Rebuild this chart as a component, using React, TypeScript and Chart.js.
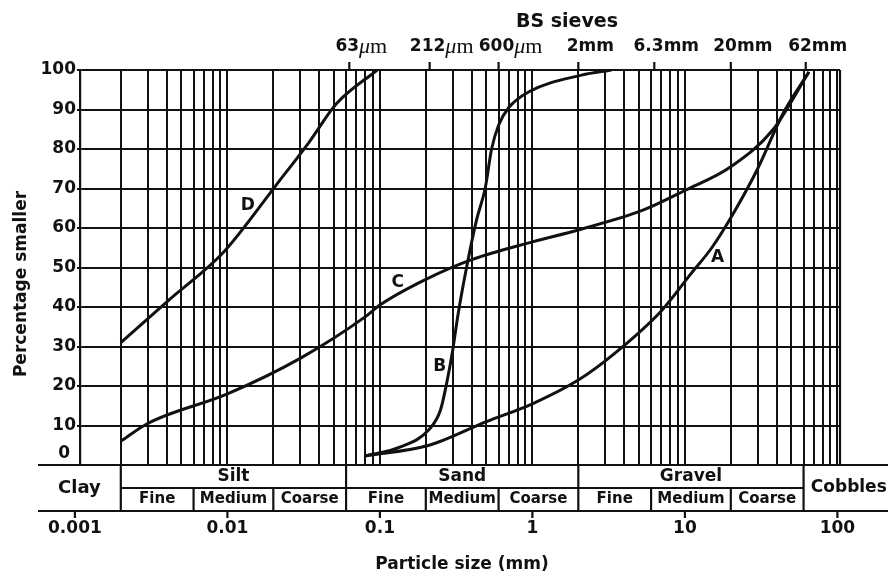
import React, { useEffect, useRef } from "react";
import { Chart, registerables } from "chart.js";

Chart.register(...registerables);

// ---------- data ----------
const sizesA = [0.08, 0.21, 0.5, 1, 2, 3.4, 7, 11, 15, 21, 30, 44, 65];
const pctA = [2.3, 5, 11, 15.5, 21.5, 28, 39, 48.5, 55, 64, 75, 89, 99.5];

const sizesB = [0.08, 0.135, 0.21, 0.25, 0.275, 0.3, 0.325, 0.37, 0.43, 0.49, 0.54, 0.6, 0.7, 0.95, 2.1, 3.3];
const pctB = [2.3, 4.5, 9, 14, 21, 29, 38, 50, 62, 70, 80, 86, 90.5, 94.5, 98.7, 100];

const sizesC = [0.002, 0.003, 0.01, 0.03, 0.08, 0.1, 0.2, 0.4, 1, 2, 5.3, 10, 20, 38, 65];
const pctC = [6, 10.5, 18, 27, 37.5, 40.5, 47, 52, 56.5, 59.5, 64.5, 69.5, 75.5, 85, 99.5];

const sizesD = [0.002, 0.0042, 0.0095, 0.021, 0.034, 0.052, 0.096];
const pctD = [31, 42, 54, 71, 81.5, 91.5, 100];

const curveNames = ["A", "B", "C", "D"];
const curveLabelSize = [16.4, 0.247, 0.131, 0.0136];
const curveLabelPct = [52.4, 24.8, 46.3, 65.8];

const yTickValues = [0, 10, 20, 30, 40, 50, 60, 70, 80, 90, 100];

const xTickValues = [0.001, 0.01, 0.1, 1, 10, 100];
const xTickLabels = ["0.001", "0.01", "0.1", "1", "10", "100"];

const gridDecades = [0.001, 0.01, 0.1, 1, 10];
const gridMultipliers = [2, 3, 4, 5, 6, 7, 8, 9, 10];

const sieveSizes = [0.063, 0.212, 0.6, 2, 6.3, 20, 62];
const sieveNums = ["63", "212", "600", "2", "6.3", "20", "62"];
const sieveUnits = ["μm", "μm", "μm", "mm", "mm", "mm", "mm"];

const mainClasses = ["Silt", "Sand", "Gravel"];
const mainBounds = [[0.002, 0.06], [0.06, 2], [2, 60]];
const subClasses = ["Fine", "Medium", "Coarse"];
const subBounds = [
  [0.002, 0.006, 0.02, 0.06],
  [0.06, 0.2, 0.6, 2],
  [2, 6, 20, 60],
];

// ---------- style ----------
const FONT = "'DejaVu Sans', 'Liberation Sans', sans-serif";
const SERIF = "'Liberation Serif', 'DejaVu Serif', serif";
const INK = "#111111";

const gridValues: number[] = [];
gridDecades.forEach((d) => gridMultipliers.forEach((m) => gridValues.push(+(d * m).toPrecision(3))));
const uniqueGrid = Array.from(new Set(gridValues));

const toPoints = (xs: number[], ys: number[]) => xs.map((x, i) => ({ x, y: ys[i] }));

const overlayPlugin = {
  id: "soilOverlay",
  afterDraw(chart: any) {
    const { ctx, chartArea } = chart;
    const xs = chart.scales.x;
    const ys = chart.scales.y;
    const px = (v: number) => xs.getPixelForValue(v);
    const top = chartArea.bottom;
    const mid = top + 23;
    const bot = top + 46;
    const tLeft = 38;
    const tRight = 888;

    ctx.save();
    ctx.strokeStyle = INK;
    ctx.fillStyle = INK;
    ctx.lineWidth = 2.2;
    const line = (x1: number, y1: number, x2: number, y2: number) => {
      ctx.beginPath();
      ctx.moveTo(x1, y1);
      ctx.lineTo(x2, y2);
      ctx.stroke();
    };

    // right border of plot
    line(chartArea.right, chartArea.top, chartArea.right, chartArea.bottom);

    // classification table
    line(tLeft, top, tRight, top);
    line(tLeft, bot, tRight, bot);
    line(px(0.002), mid, px(60), mid);
    [0.002, 0.06, 2, 60].forEach((v) => line(px(v), top, px(v), bot));
    subBounds.forEach((b) => [b[1], b[2]].forEach((v) => line(px(v), mid, px(v), bot)));
    xTickValues.forEach((v) => line(px(v), bot, px(v), bot + 7));

    ctx.textAlign = "center";
    ctx.textBaseline = "middle";
    ctx.font = `bold 18px ${FONT}`;
    ctx.fillText("Clay", (tLeft + px(0.002)) / 2, (top + bot) / 2);
    ctx.font = `bold 17px ${FONT}`;
    ctx.fillText("Cobbles", (px(60) + tRight) / 2 + 3, (top + bot) / 2);
    mainClasses.forEach((name, i) => {
      const [a, b] = mainBounds[i];
      ctx.fillText(name, (px(a) + px(b)) / 2, top + 12);
    });
    ctx.font = `bold 15px ${FONT}`;
    subBounds.forEach((b) => {
      subClasses.forEach((name, j) => {
        ctx.fillText(name, (px(b[j]) + px(b[j + 1])) / 2, mid + 11.5, px(b[j + 1]) - px(b[j]) - 3);
      });
    });

    // x tick labels
    ctx.font = `bold 17px ${FONT}`;
    xTickValues.forEach((v, i) => ctx.fillText(xTickLabels[i], px(v), bot + 18));

    // x title
    ctx.font = `bold 17px ${FONT}`;
    ctx.fillText("Particle size (mm)", (chartArea.left + chartArea.right) / 2 + 2, 565);

    // y "0" label (sits just above the table line)
    ctx.textAlign = "right";
    ctx.fillText("0", 70, ys.getPixelForValue(0) - 11);

    // y title
    ctx.save();
    ctx.translate(22, 284);
    ctx.rotate(-Math.PI / 2);
    ctx.textAlign = "center";
    ctx.font = `bold 17px ${FONT}`;
    ctx.fillText("Percentage smaller", 0, 0);
    ctx.restore();

    // BS sieves
    ctx.textAlign = "center";
    ctx.font = `bold 19px ${FONT}`;
    ctx.fillText("BS sieves", 567, 22);
    sieveSizes.forEach((v, i) => {
      const x = px(v);
      line(x, chartArea.top - 8, x, chartArea.top);
      const numFont = `bold 17px ${FONT}`;
      const unitIsMicro = sieveUnits[i] === "μm";
      ctx.font = numFont;
      const wNum = ctx.measureText(sieveNums[i]).width;
      let wU1 = 0;
      let wU2 = 0;
      if (unitIsMicro) {
        ctx.font = `italic 22px ${SERIF}`;
        wU1 = ctx.measureText("μ").width;
        ctx.font = `22px ${SERIF}`;
        wU2 = ctx.measureText("m").width;
      } else {
        wU1 = ctx.measureText("mm").width;
      }
      const total = wNum + wU1 + wU2;
      let cx = x + 12 - total / 2;
      const y = 47;
      ctx.textAlign = "left";
      ctx.font = numFont;
      ctx.fillText(sieveNums[i], cx, y);
      cx += wNum;
      if (unitIsMicro) {
        ctx.font = `italic 22px ${SERIF}`;
        ctx.fillText("μ", cx, y);
        cx += wU1;
        ctx.font = `22px ${SERIF}`;
        ctx.fillText("m", cx, y);
      } else {
        ctx.font = numFont;
        ctx.fillText("mm", cx, y);
      }
      ctx.textAlign = "center";
    });

    // curve letters
    ctx.font = `bold 17px ${FONT}`;
    ctx.textAlign = "center";
    curveNames.forEach((n, i) => {
      ctx.fillText(n, px(curveLabelSize[i]), ys.getPixelForValue(curveLabelPct[i]));
    });

    ctx.restore();
  },
};

export default function App() {
  const canvasRef = useRef<HTMLCanvasElement | null>(null);

  useEffect(() => {
    const canvas = canvasRef.current;
    if (!canvas) return;
    const lineStyle = {
      borderColor: INK,
      borderWidth: 3,
      pointRadius: 0,
      fill: false,
      cubicInterpolationMode: "monotone" as const,
    };
    const chart = new Chart(canvas, {
      type: "line",
      data: {
        datasets: [
          { label: "A", data: toPoints(sizesA, pctA), ...lineStyle },
          { label: "B", data: toPoints(sizesB, pctB), ...lineStyle },
          { label: "C", data: toPoints(sizesC, pctC), ...lineStyle },
          { label: "D", data: toPoints(sizesD, pctD), ...lineStyle },
        ],
      },
      options: {
        responsive: false,
        devicePixelRatio: 1,
        animation: false,
        layout: { padding: { left: 0, top: 70, right: 52, bottom: 115 } },
        plugins: { legend: { display: false }, tooltip: { enabled: false } },
        scales: {
          x: {
            type: "logarithmic",
            min: 0.00108,
            max: 104,
            afterBuildTicks: (s: any) => {
              s.ticks = uniqueGrid.map((v) => ({ value: v }));
            },
            afterFit: (s: any) => {
              s.height = 0;
            },
            ticks: { display: false },
            grid: { color: INK, lineWidth: 2, drawTicks: false },
            border: { display: false },
          },
          y: {
            min: 0,
            max: 100,
            afterBuildTicks: (s: any) => {
              s.ticks = yTickValues.map((v) => ({ value: v }));
            },
            afterFit: (s: any) => {
              s.width = 80;
            },
            ticks: {
              color: INK,
              font: { family: FONT, size: 17, weight: "bold" },
              padding: 1,
              callback: (v: any) => (Number(v) === 0 ? "" : String(v)),
            },
            grid: { color: INK, lineWidth: 2, tickLength: 3 },
            border: { display: true, color: INK, width: 2.2 },
          },
        },
      },
      plugins: [overlayPlugin],
    });
    return () => chart.destroy();
  }, []);

  return (
    <div style={{ position: "fixed", left: 0, top: 0, width: 892, height: 580, background: "#fff" }}>
      <canvas ref={canvasRef} width={892} height={580} style={{ display: "block", width: 892, height: 580 }} />
    </div>
  );
}
